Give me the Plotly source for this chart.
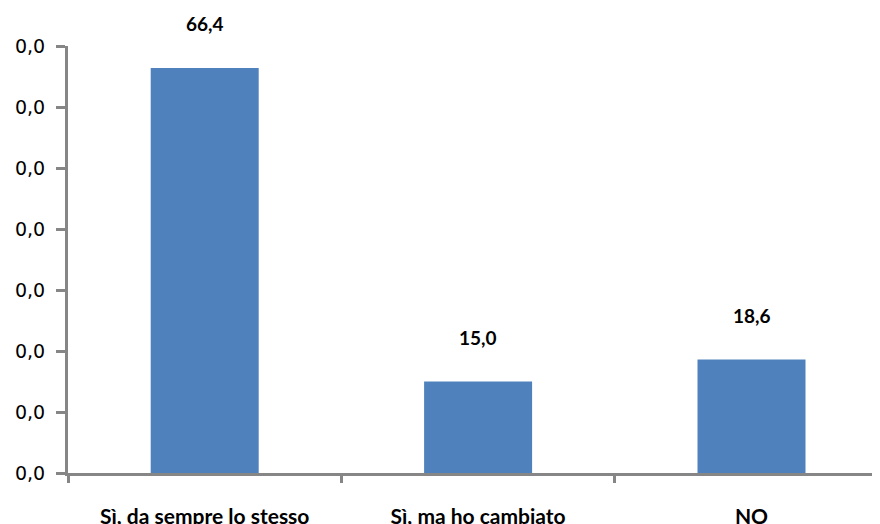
import plotly.graph_objects as go

categories = ["Sì, da sempre lo stesso", "Sì, ma ho cambiato", "NO"]
values = [66.4, 15.0, 18.6]
value_labels = ["66,4", "15,0", "18,6"]
y_tickvals = [0, 10, 20, 30, 40, 50, 60, 70]
y_ticktext = ["0,0"] * 8

fig = go.Figure()
fig.add_trace(go.Bar(
    x=categories, y=values, width=0.395,
    marker=dict(color="#4F81BD", line=dict(width=0)),
    hoverinfo="skip",
))
for c, v, t in zip(categories, values, value_labels):
    fig.add_annotation(x=c, y=v, text="<b>%s</b>" % t, showarrow=False,
                       yshift=44, font=dict(size=19, family="Lato", color="#000000"))

axis_color = "#868686"
fig.update_layout(
    width=872, height=516,
    margin=dict(l=60, r=0, t=38, b=51),
    paper_bgcolor="white", plot_bgcolor="white",
    font=dict(family="Lato", color="#000000"),
    showlegend=False,
    xaxis=dict(
        type="category", range=[-0.5, 2.47], automargin=False,
        showline=True, linecolor=axis_color, linewidth=3,
        ticks="outside", tickson="boundaries", ticklen=7, tickwidth=3, tickcolor=axis_color,
        showgrid=False, zeroline=False,
        tickfont=dict(size=21, family="Lato", color="#000000"),
        ticklabelstandoff=23,
        tickvals=categories,
        ticktext=["<b>%s</b>" % c for c in categories],
    ),
    yaxis=dict(
        range=[0, 70], automargin=False,
        tickvals=y_tickvals, ticktext=y_ticktext,
        showline=True, linecolor=axis_color, linewidth=3,
        ticks="outside", ticklen=9, tickwidth=3, tickcolor=axis_color,
        showgrid=False, zeroline=False,
        tickfont=dict(size=19, family="DejaVu Sans", color="#000000", weight="normal"),
        ticklabelstandoff=7,
    ),
)
fig.write_html("out.html")
